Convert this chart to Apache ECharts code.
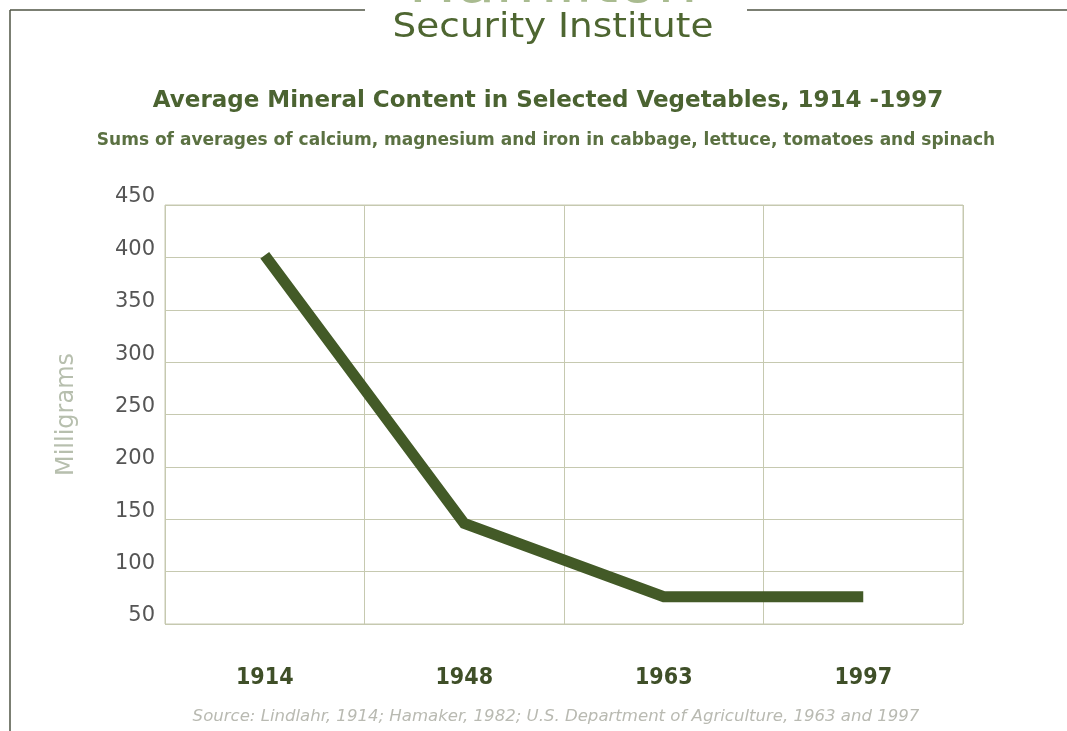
<!DOCTYPE html>
<html>
<head>
<meta charset="utf-8">
<style>
html, body { margin: 0; padding: 0; background: #fff; }
#main { width: 1067px; height: 731px; }
</style>
<script src="https://cdn.jsdelivr.net/npm/echarts@6/dist/echarts.min.js"></script>
</head>
<body>
<div id="main"></div>
<script>
// years on the x axis
var years = ['1914', '1948', '1963', '1997'];
// sum of calcium + magnesium + iron averages, mg
var minerals = [402, 146, 76, 76];
// y axis range
var yMin = 50, yMax = 450, yStep = 50;

var condensed = '"DejaVu Sans Condensed", "Liberation Sans", sans-serif';

var myChart = echarts.init(document.getElementById('main'));

var option = {
	backgroundColor: '#fff',
	title: [
		{
			text: 'Average Mineral Content in Selected Vegetables, 1914 -1997',
			left: 543,
			textAlign: 'center',
			top: 85,
			textStyle: { fontFamily: 'DejaVu Sans', fontWeight: 'bold', fontSize: 23, color: '#4b6331' }
		},
		{
			text: 'Sums of averages of calcium, magnesium and iron in cabbage, lettuce, tomatoes and spinach',
			left: 541,
			textAlign: 'center',
			top: 127,
			textStyle: { fontFamily: 'DejaVu Sans', fontWeight: 'bold', fontSize: 17, color: '#5b7142' }
		}
	],
	grid: {
		left: 165,
		right: 104,
		top: 205,
		bottom: 107,
		show: true,
		borderColor: '#c6c9b0',
		borderWidth: 1
	},
	xAxis: {
		type: 'category',
		data: years,
		boundaryGap: true,
		axisLine: { show: false },
		axisTick: { show: false },
		splitLine: { show: true, lineStyle: { color: '#c6c9b0', width: 1 } },
		axisLabel: {
			margin: 43,
			fontFamily: condensed,
			fontWeight: 'bold',
			fontSize: 23,
			color: '#3f4f28'
		}
	},
	yAxis: {
		type: 'value',
		min: yMin,
		max: yMax,
		interval: yStep,
		name: 'Milligrams',
		nameLocation: 'middle',
		nameGap: 86,
		nameTextStyle: { fontFamily: 'DejaVu Sans', fontSize: 24, color: '#b7bfae' },
		axisLine: { show: false },
		axisTick: { show: false },
		splitLine: { lineStyle: { color: '#c6c9b0', width: 1 } },
		axisLabel: {
			margin: 10,
			verticalAlign: 'bottom',
			lineHeight: 16,
			fontFamily: 'DejaVu Sans',
			fontSize: 21,
			color: '#555555'
		}
	},
	series: [
		{
			name: 'Minerals',
			type: 'line',
			data: minerals,
			symbol: 'none',
			lineStyle: { color: '#435a27', width: 11, cap: 'butt', join: 'miter' }
		}
	],
	graphic: [
		// frame around the page
		{ type: 'line', shape: { x1: 10, y1: 10, x2: 365, y2: 10 }, style: { stroke: '#4f5444', lineWidth: 1.5 } },
		{ type: 'line', shape: { x1: 747, y1: 10, x2: 1067, y2: 10 }, style: { stroke: '#4f5444', lineWidth: 1.5 } },
		{ type: 'line', shape: { x1: 10, y1: 10, x2: 10, y2: 731 }, style: { stroke: '#4f5444', lineWidth: 1.5 } },
		// logo
		{
			type: 'text', x: 553, y: -42, scaleX: 1.1,
			style: { text: 'Hamilton', font: '58px "DejaVu Sans"', fill: '#a9bb90', textAlign: 'center' }
		},
		{
			type: 'text', x: 553, y: 11, scaleX: 1.1,
			style: { text: 'Security Institute', font: '34px "DejaVu Sans"', fill: '#4e6631', textAlign: 'center' }
		},
		// source note
		{
			type: 'text', x: 556, y: 709, scaleX: 1.15,
			style: {
				text: 'Source: Lindlahr, 1914; Hamaker, 1982; U.S. Department of Agriculture, 1963 and 1997',
				font: 'italic 16px ' + condensed, fill: '#b9bab2', textAlign: 'center'
			}
		}
	]
};

myChart.setOption(option);
</script>
</body>
</html>
